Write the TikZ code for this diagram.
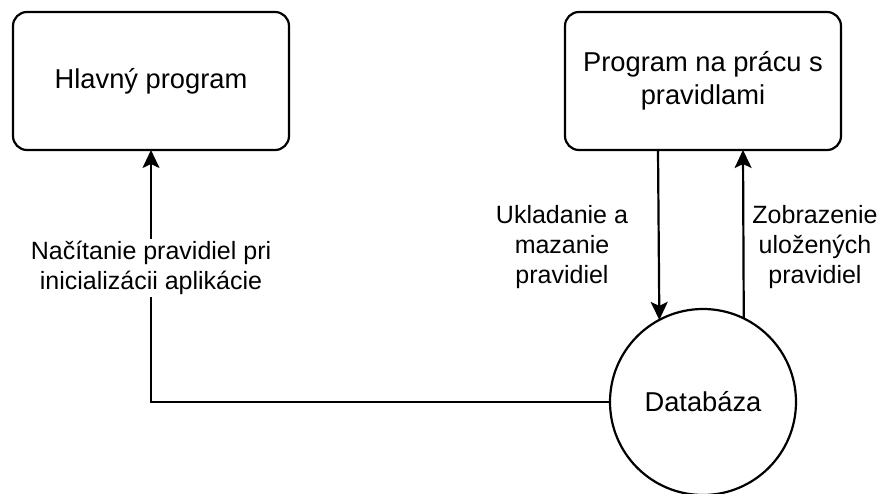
\documentclass[tikz,border=0pt]{standalone}
\usepackage{fontspec}
\setmainfont{Liberation Sans}
\usetikzlibrary{arrows.meta}
\begin{document}
\begin{tikzpicture}[x=1pt,y=-1pt,
  every node/.style={outer sep=0pt},
  box/.style={draw, line width=2.2pt, rounded corners=14pt, minimum width=276pt, minimum height=138pt, align=center, font=\fontsize{27.3}{32.8}\selectfont},
  dbnode/.style={draw, circle, line width=2.2pt, minimum size=186pt, inner sep=0pt, font=\fontsize{27.3}{32.8}\selectfont},
  lbl/.style={align=center, font=\fontsize{25}{30}\selectfont},
  conn/.style={line width=2.2pt},
  arr/.style={conn, -{Stealth[length=18pt,width=17pt,inset=4pt]}}]
\useasboundingbox (0,0) rectangle (881,494);
\node[box] (main) at (151,81) {Hlavný program};
\node[box] (rules) at (703,81) {Program na prácu s\\pravidlami};
\node[dbnode] (db) at (703,402) {Databáza};
\draw[arr] (db.west) -| node[pos=0.766, lbl, fill=white, inner sep=2pt] (l1) {Načítanie pravidiel pri\\inicializácii aplikácie} (main.south);
\draw[arr] ([xshift=-45pt]rules.south) -- (db.118.9);
\draw[arr] (db.64.5) -- ([xshift=40pt]rules.south);
\node[lbl] (l2) at (562,247) {Ukladanie a\\mazanie\\pravidiel};
\node[lbl] (l3) at (815,247) {Zobrazenie\\uložených\\pravidiel};
\end{tikzpicture}
\end{document}
